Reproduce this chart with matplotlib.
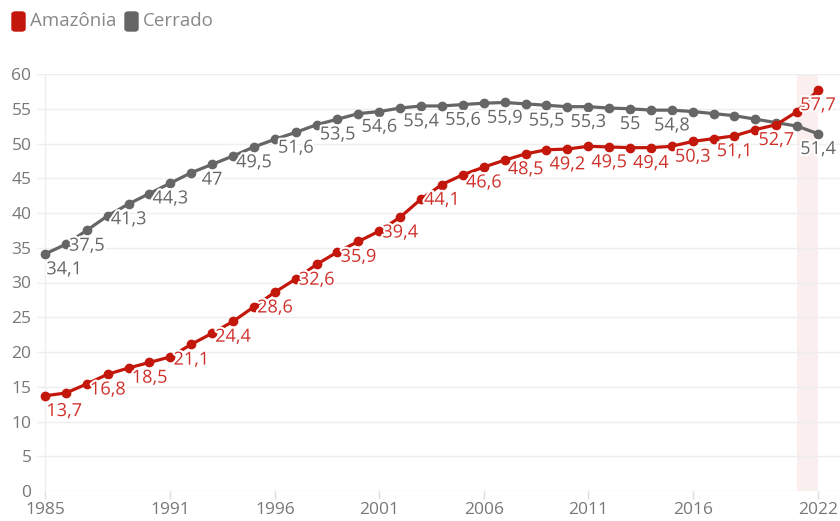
import matplotlib.pyplot as plt
import matplotlib.patheffects as pe
from matplotlib.patches import FancyBboxPatch

plt.rcParams['font.family'] = ['Open Sans', 'DejaVu Sans']

# dados
anos = list(range(1985, 2023))
amazonia = [13.7, 14.1, 15.4, 16.8, 17.7, 18.5, 19.3, 21.1, 22.7, 24.4,
            26.5, 28.6, 30.5, 32.6, 34.4, 35.9, 37.4, 39.4, 42.0, 44.1,
            45.5, 46.6, 47.6, 48.5, 49.1, 49.2, 49.6, 49.5, 49.4, 49.4,
            49.6, 50.3, 50.7, 51.1, 52.0, 52.7, 54.6, 57.7]
cerrado = [34.1, 35.5, 37.5, 39.6, 41.3, 42.8, 44.3, 45.8, 47.0, 48.2,
           49.5, 50.6, 51.6, 52.7, 53.5, 54.3, 54.6, 55.1, 55.4, 55.4,
           55.6, 55.8, 55.9, 55.7, 55.5, 55.3, 55.3, 55.1, 55.0, 54.8,
           54.8, 54.6, 54.3, 54.0, 53.5, 53.0, 52.5, 51.4]
anos_rotulo_amz = [1985, 1988, 1990, 1992, 1994, 1996, 1998, 2000, 2002, 2004,
                   2006, 2008, 2010, 2012, 2014, 2016, 2018, 2020, 2022]
anos_rotulo_cer = [1985, 1987, 1989, 1991, 1993, 1995, 1997, 1999, 2001, 2003,
                   2005, 2007, 2009, 2011, 2013, 2015, 2022]
xticks = [1985, 1991, 1996, 2001, 2006, 2011, 2016, 2022]

VERMELHO = '#c4170c'
CINZA = '#666666'
TEXTO = '#777777'

fig = plt.figure(figsize=(8.4, 5.21), dpi=100)
ax = fig.add_axes([37 / 840, 30 / 521, 803 / 840, 417 / 521])

ax.set_xlim(1985 - 8 / 20.9, 2022 + 22 / 20.9)
ax.set_ylim(0, 60)

# faixa destacada
ax.axvspan(2021, 2022, color='#fbeeee', zorder=0, lw=0)
ax.axvline(1985, color='#eeeeee', lw=1, zorder=0)

for y in range(0, 61, 5):
    ax.axhline(y, color='#eeeeee', lw=1, zorder=0)

for serie, cor in [(cerrado, CINZA), (amazonia, VERMELHO)]:
    ax.plot(anos, serie, color=cor, lw=2.3, marker='o', ms=6,
            clip_on=False, zorder=3)

halo = [pe.withStroke(linewidth=3, foreground='white')]

def rotular(serie, anos_rot, cor):
    for a in anos_rot:
        v = serie[anos.index(a)]
        txt = ('%.1f' % v).rstrip('0').rstrip('.').replace('.', ',')
        ha = 'left' if a == 1985 else 'center'
        dx = 1 if a == 1985 else 0
        ax.annotate(txt, (a, v), xytext=(dx, -11), textcoords='offset points',
                    ha=ha, va='center', fontsize=13, color=cor,
                    path_effects=halo, zorder=5, annotation_clip=False)

rotular(cerrado, anos_rotulo_cer, '#666666')
rotular(amazonia, anos_rotulo_amz, '#d0302a')

for s in ax.spines.values():
    s.set_visible(False)

ax.set_yticks(range(0, 61, 5))
ax.set_xticks(xticks)
ax.tick_params(axis='y', length=0, pad=4, labelsize=12.5, labelcolor=TEXTO)
ax.tick_params(axis='x', length=6, width=1, color='#dddddd', pad=2,
               labelsize=12.5, labelcolor=TEXTO)

# legenda
for x0, cor, nome in [(12, VERMELHO, 'Amazônia'), (125, CINZA, 'Cerrado')]:
    caixa = FancyBboxPatch((x0 / 840, 1 - 31 / 521), 13 / 840, 19 / 521,
                           boxstyle='round,pad=0,rounding_size=0.004',
                           transform=fig.transFigure, color=cor)
    fig.patches.append(caixa)
    fig.text((x0 + 18) / 840, 1 - 21 / 521, nome, fontsize=13.5, color='#888888',
             va='center', ha='left')

fig.savefig('out.png', dpi=100)
